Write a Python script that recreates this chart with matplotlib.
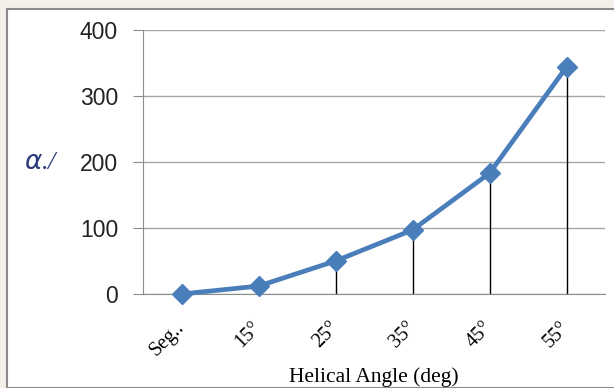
import numpy as np
import matplotlib
matplotlib.use("Agg")
import matplotlib.pyplot as plt
from matplotlib.patches import Rectangle

OUT_PATH = "out.png"

categories = ["Seg..", "15°", "25°", "35°", "45°", "55°"]
values = [0, 12, 50, 97, 183, 344]
y_ticks = [0, 100, 200, 300, 400]

W, H = 614, 388
fig = plt.figure(figsize=(W / 100, H / 100), dpi=100)
fig.patch.set_facecolor("#f4efe8")

# white chart area with grey border (Excel chart frame)
fig.patches.append(Rectangle((7 / W, 0), 1.0, 1 - 9 / H, transform=fig.transFigure,
                             facecolor="white", edgecolor="#8a8a8a", lw=1.5, zorder=-1))

ax = fig.add_axes([143 / W, (H - 294) / H, (605 - 143) / W, (294 - 30) / H])
ax.set_zorder(2)
ax.set_facecolor("none")

x = np.arange(len(categories))
ax.vlines(x, 0, values, color="black", lw=1.0, zorder=2)
ax.plot(x, values, "-D", color="#4a7ebb", lw=3.4, ms=10, mec="#4a7ebb", zorder=3,
        clip_on=False)

ax.set_xlim(-0.5, len(categories) - 0.5)
ax.set_ylim(0, 400)
ax.set_yticks(y_ticks)
ax.yaxis.grid(True, color="#a6a6a6", lw=1.0)
ax.set_axisbelow(True)
for s in ["top", "right"]:
    ax.spines[s].set_visible(False)
ax.spines["left"].set_color("#8c8c8c")
ax.spines["bottom"].set_color("#8c8c8c")
ax.tick_params(axis="y", length=7, color="#8c8c8c", pad=11, labelsize=16.5,
               labelcolor="#222222")
for lab in ax.get_yticklabels():
    lab.set_family("Liberation Sans")

ax.set_xticks(x)
ax.set_xticklabels(categories, rotation=45, ha="right", va="center",
                   rotation_mode="anchor", family="Liberation Serif", fontsize=14.5)
ax.tick_params(axis="x", length=0, pad=22)

ax.set_xlabel("Helical Angle (deg)", family="Liberation Serif", fontsize=15.5,
              labelpad=5)

fig.text(24 / W, (H - 163) / H, r"$\alpha$./", color="#2a3a7a", fontsize=19,
         family="Liberation Serif", style="italic", ha="left", va="center")

fig.savefig(OUT_PATH, dpi=100)
